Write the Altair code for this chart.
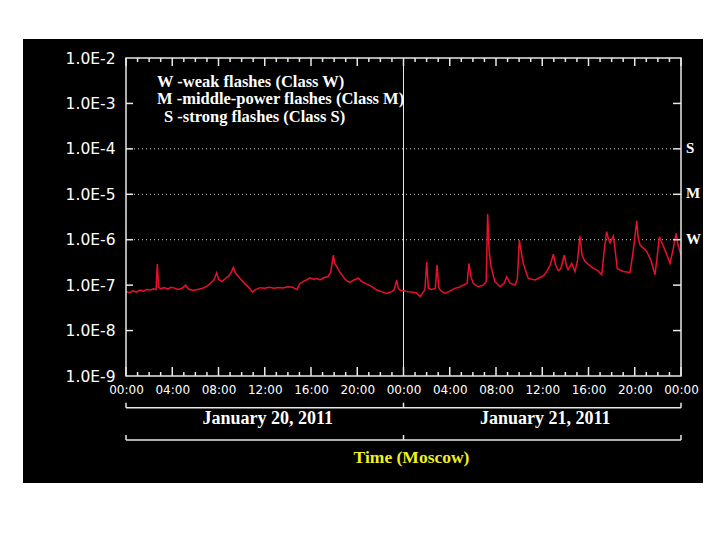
import altair as alt
import pandas as pd

# ---------------- data ----------------
hours = [0.0, 0.3, 0.6, 0.9, 1.2, 1.5, 1.8, 2.1, 2.4, 2.6,
         2.71, 2.82, 3.0, 3.3, 3.6, 3.9, 4.2, 4.5, 4.8, 5.16,
         5.4, 5.8, 6.2, 6.6, 7.0, 7.3, 7.6, 7.84, 8.0, 8.3,
         8.6, 8.9, 9.1, 9.28, 9.5, 9.8, 10.1, 10.4, 10.7, 10.92,
         11.2, 11.6, 12.0, 12.4, 12.8, 13.2, 13.6, 14.0, 14.4, 14.79,
         15.0, 15.3, 15.6, 15.92, 16.2, 16.5, 16.78, 17.1, 17.47, 17.7,
         17.93, 18.05, 18.22, 18.45, 18.66, 18.94, 19.2, 19.37, 19.7, 20.09,
         20.4, 20.82, 21.2, 21.68, 22.1, 22.55, 22.98, 23.2, 23.41, 23.55,
         23.7, 24.0, 24.39, 24.8, 25.1, 25.43, 25.71, 25.85, 26.01, 26.15,
         26.4, 26.75, 26.9, 27.05, 27.16, 27.59, 28.0, 28.45, 28.8, 29.17,
         29.5, 29.66, 29.85, 30.03, 30.47, 30.9, 31.15, 31.28, 31.4, 31.57,
         31.91, 32.35, 32.7, 32.93, 33.21, 33.64, 33.85, 34.02, 34.2, 34.36,
         34.79, 35.37, 35.95, 36.2, 36.39, 36.7, 36.96, 37.15, 37.39, 37.6,
         37.91, 38.1, 38.23, 38.55, 38.83, 39.05, 39.26, 39.45, 39.7, 40.05,
         40.42, 40.8, 41.14, 41.35, 41.57, 41.72, 41.86, 42.15, 42.3, 42.49,
         43.01, 43.59, 43.88, 44.17, 44.3, 44.46, 45.04, 45.4, 45.75, 45.95,
         46.13, 46.35, 46.62, 47.05, 47.34, 47.57, 47.75, 48.0]

flux = [7.2e-8, 6.8e-8, 7.5e-8, 7.0e-8, 7.8e-8, 7.4e-8, 8.0e-8, 7.8e-8, 8.3e-8, 8.0e-8,
        2.9e-7, 9.0e-8, 8.3e-8, 8.8e-8, 8.2e-8, 9.0e-8, 8.6e-8, 8.0e-8, 8.4e-8, 1.0e-7,
        8.2e-8, 7.6e-8, 8.0e-8, 8.5e-8, 9.5e-8, 1.1e-7, 1.3e-7, 1.87e-7, 1.35e-7, 1.2e-7,
        1.4e-7, 1.6e-7, 1.9e-7, 2.46e-7, 1.8e-7, 1.45e-7, 1.2e-7, 1.0e-7, 8.5e-8, 7.0e-8,
        8.0e-8, 8.8e-8, 8.5e-8, 9.0e-8, 8.6e-8, 8.9e-8, 8.7e-8, 9.2e-8, 9.0e-8, 8.0e-8,
        1.05e-7, 1.2e-7, 1.3e-7, 1.45e-7, 1.35e-7, 1.4e-7, 1.3e-7, 1.45e-7, 1.55e-7, 1.9e-7,
        4.6e-7, 3.0e-7, 2.6e-7, 2.0e-7, 1.7e-7, 1.35e-7, 1.2e-7, 1.15e-7, 1.3e-7, 1.42e-7,
        1.2e-7, 1.05e-7, 9.5e-8, 7.8e-8, 7.2e-8, 6.6e-8, 7.2e-8, 8.0e-8, 1.3e-7, 8.5e-8,
        7.8e-8, 7.5e-8, 7.2e-8, 7.0e-8, 6.8e-8, 5.6e-8, 7.0e-8, 8.0e-8, 3.27e-7, 8.5e-8,
        8.0e-8, 8.5e-8, 2.8e-7, 9.0e-8, 7.8e-8, 6.6e-8, 7.4e-8, 8.5e-8, 9.0e-8, 1.0e-7,
        1.1e-7, 3.0e-7, 1.5e-7, 1.1e-7, 9.2e-8, 1.0e-7, 1.2e-7, 3.7e-6, 6.0e-7, 2.54e-7,
        1.19e-7, 9.2e-8, 1.1e-7, 1.53e-7, 1.1e-7, 1.0e-7, 1.4e-7, 9.8e-7, 5.0e-7, 3.0e-7,
        1.41e-7, 1.3e-7, 1.53e-7, 1.7e-7, 2.0e-7, 2.8e-7, 4.8e-7, 2.8e-7, 2.1e-7, 2.3e-7,
        4.6e-7, 2.6e-7, 2.2e-7, 3.0e-7, 1.97e-7, 3.5e-7, 1.2e-6, 4.5e-7, 3.3e-7, 2.8e-7,
        2.34e-7, 2.1e-7, 1.7e-7, 5.5e-7, 1.5e-6, 1.05e-6, 8.5e-7, 1.2e-6, 6.0e-7, 2.3e-7,
        2.0e-7, 1.9e-7, 5.9e-7, 2.6e-6, 1.1e-6, 7.6e-7, 5.5e-7, 3.5e-7, 1.7e-7, 4.5e-7,
        1.16e-6, 8.5e-7, 5.9e-7, 3.0e-7, 6.5e-7, 1.38e-6, 7.5e-7, 4.6e-7]

label_hours = [0, 4, 8, 12, 16, 20, 24, 28, 32, 36, 40, 44, 48]
decades = [1e-9, 1e-8, 1e-7, 1e-6, 1e-5, 1e-4, 1e-3, 1e-2]
inner_decades = [1e-8, 1e-7, 1e-6, 1e-5, 1e-4, 1e-3]
grid_levels = [1e-4, 1e-5, 1e-6]
class_letters = ["S", "M", "W"]
legend_lines = ["W -weak flashes (Class W)",
                "M -middle-power flashes (Class M)",
                "S -strong flashes (Class S)"]
day_names = ["January 20, 2011", "January 21, 2011"]
day_centers = [12, 36]
bracket_ticks = [0, 24, 48]
axis_title = "Time (Moscow)"

W, H = 555, 318

df = pd.DataFrame({"hour": hours, "flux": flux})
major_df = pd.DataFrame({"hour": label_hours})
minor_df = pd.DataFrame({"hour": [h for h in range(49) if h % 4 != 0]})
dec_df = pd.DataFrame({"flux": inner_decades})
grid_df = pd.DataFrame({"flux": grid_levels})
cls_df = pd.DataFrame({"flux": grid_levels, "label": class_letters})
day_df = pd.DataFrame({"hour": day_centers, "label": day_names})
brk_df = pd.DataFrame({"hour": bracket_ticks})
span_df = pd.DataFrame({"hour": [0], "hour2": [48]})
mid_df = pd.DataFrame({"hour": [24]})
one = pd.DataFrame({"a": [0]})

xs = alt.Scale(domain=[0, 48], nice=False, zero=False)
ys = alt.Scale(type="log", domain=[1e-9, 1e-2], nice=False)

xaxis = alt.Axis(values=label_hours, title=None, domain=False, ticks=False, grid=False,
                 labelColor="white", labelFont="DejaVu Sans", labelFontSize=12,
                 labelPadding=8, zindex=2, labelFlush=False, labelOverlap=False,
                 labelExpr="(datum.value % 24 < 10 ? '0' : '') + (datum.value % 24) + ':00'")
yaxis = alt.Axis(values=decades, title=None, domain=False, ticks=False, grid=False,
                 labelColor="white", labelFont="DejaVu Sans", labelFontSize=15.5,
                 labelPadding=11, zindex=2, labelFlush=False, labelOverlap=False,
                 labelExpr="'1.0E-' + round(-log(datum.value) / LN10)")

X = alt.X("hour:Q", scale=xs, axis=xaxis)
Y = alt.Y("flux:Q", scale=ys, axis=yaxis)

WHITE = "#e8e8e8"

bg = alt.Chart(one).mark_rect(color="black").encode(
    x=alt.value(-103), x2=alt.value(577), y=alt.value(-19), y2=alt.value(425))

frame = alt.Chart(one).mark_rect(filled=False, stroke=WHITE, strokeWidth=1.5).encode(
    x=alt.value(0), x2=alt.value(W), y=alt.value(0), y2=alt.value(H))

grid = alt.Chart(grid_df).mark_rule(color="#d0d0d0", strokeDash=[1, 3], strokeWidth=1).encode(
    y=Y, x=alt.value(0), x2=alt.value(W - 7))

midline = alt.Chart(mid_df).mark_rule(color=WHITE, strokeWidth=1).encode(
    x=X, y=alt.value(0), y2=alt.value(H))

line = alt.Chart(df).mark_line(color="#e8102c", strokeWidth=1.5, clip=True).encode(x=X, y=Y)

tick_b_major = alt.Chart(major_df).mark_rule(color=WHITE, strokeWidth=1.5).encode(
    x=X, y=alt.value(H), y2=alt.value(H - 9))
tick_b_minor = alt.Chart(minor_df).mark_rule(color=WHITE, strokeWidth=1.5).encode(
    x=X, y=alt.value(H), y2=alt.value(H - 4))
tick_t_major = alt.Chart(major_df).mark_rule(color=WHITE, strokeWidth=1.5).encode(
    x=X, y=alt.value(0), y2=alt.value(8))
tick_t_minor = alt.Chart(minor_df).mark_rule(color=WHITE, strokeWidth=1.5).encode(
    x=X, y=alt.value(0), y2=alt.value(4))
tick_l = alt.Chart(dec_df).mark_rule(color=WHITE, strokeWidth=1.5).encode(
    y=Y, x=alt.value(0), x2=alt.value(7))
tick_r = alt.Chart(dec_df).mark_rule(color=WHITE, strokeWidth=1.5).encode(
    y=Y, x=alt.value(W - 8), x2=alt.value(W))

cls_text = alt.Chart(cls_df).mark_text(
    color="white", font="Liberation Serif", fontWeight="bold", fontSize=15,
    align="left", baseline="middle", dy=-1).encode(
    y=Y, x=alt.value(560), text="label:N")

legend_layers = []
for txt, xx, yy in zip(legend_lines, [31, 31, 38], [28.7, 46, 63.7]):
    legend_layers.append(
        alt.Chart(pd.DataFrame({"t": [txt]})).mark_text(
            color="white", font="Liberation Serif", fontWeight="bold", fontSize=16.5,
            align="left", baseline="alphabetic").encode(
            x=alt.value(xx), y=alt.value(yy), text="t:N"))

day_text = alt.Chart(day_df).mark_text(
    color="white", font="Liberation Serif", fontWeight="bold", fontSize=18,
    align="center", baseline="alphabetic", dx=3).encode(
    x=X, y=alt.value(366.3), text="label:N")

title_text = alt.Chart(mid_df).mark_text(
    color="#f0f020", font="Liberation Serif", fontWeight="bold", fontSize=17.5,
    align="center", baseline="alphabetic", dx=8).encode(
    x=X, y=alt.value(405.3), text=alt.value(axis_title))

brk_layers = []
for yy in [349.7, 382.0]:
    brk_layers.append(alt.Chart(span_df).mark_rule(color=WHITE, strokeWidth=1.5).encode(
        x=X, x2="hour2:Q", y=alt.value(yy)))
    brk_layers.append(alt.Chart(brk_df).mark_rule(color=WHITE, strokeWidth=1.5).encode(
        x=X, y=alt.value(yy - 5), y2=alt.value(yy)))

chart = alt.layer(
    bg, grid, midline, line, frame,
    tick_b_major, tick_b_minor, tick_t_major, tick_t_minor, tick_l, tick_r,
    cls_text, *legend_layers, day_text, title_text, *brk_layers
).properties(
    width=W, height=H,
    autosize=alt.AutoSizeParams(type="none"),
    padding={"left": 118, "top": 50, "right": 30, "bottom": 150},
    background="white",
).configure_view(stroke=None)

chart.save("out.html", embed_options={"renderer": "svg", "actions": False})
